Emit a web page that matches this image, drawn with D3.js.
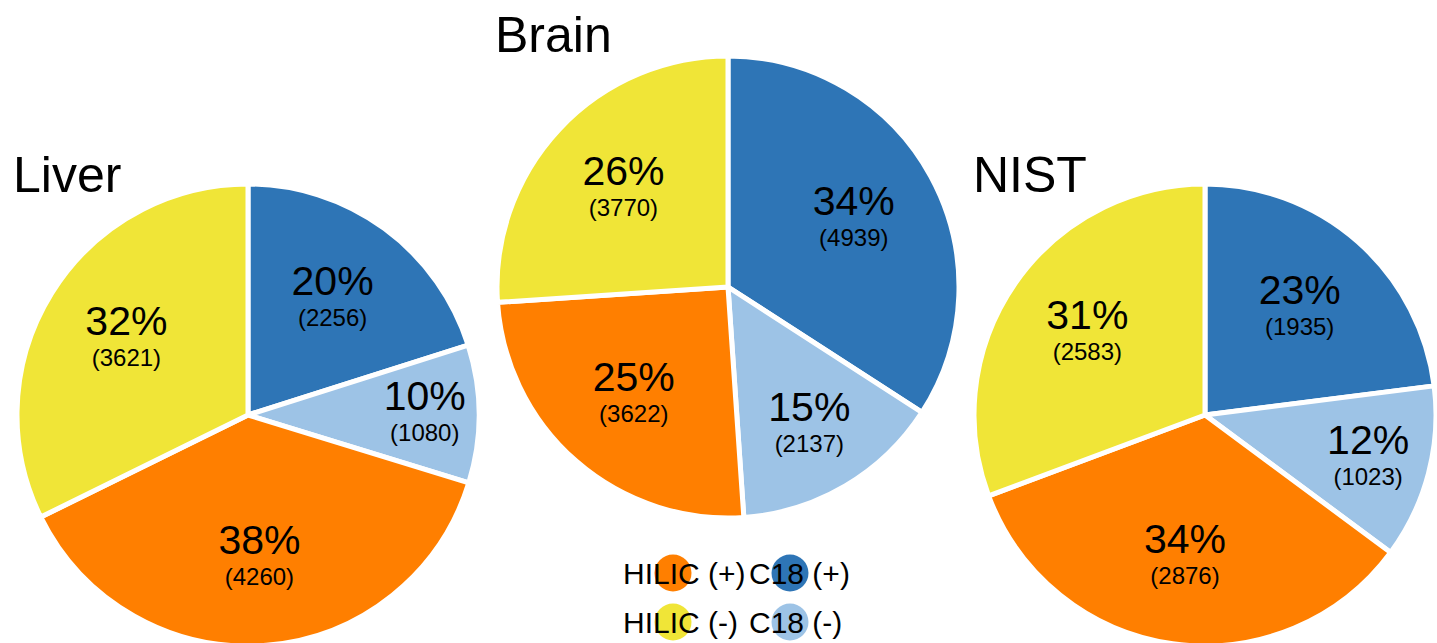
<!DOCTYPE html>
<html>
<head>
<meta charset="utf-8">
<script src="https://cdn.jsdelivr.net/npm/d3@7"></script>
<style>
  body { margin: 0; background: #fff; }
  svg { display: block; font-family: "Liberation Sans", Arial, sans-serif; }
</style>
</head>
<body>
<div id="chart"></div>
<script>
// categories in clockwise order from 12 o'clock
const categories = ["C18 (+)", "C18 (-)", "HILIC (+)", "HILIC (-)"];
const samples = ["Liver", "Brain", "NIST"];
const liverCounts = [2256, 1080, 4260, 3621];
const brainCounts = [4939, 2137, 3622, 3770];
const nistCounts = [1935, 1023, 2876, 2583];
const legendOrder = ["HILIC (+)", "C18 (+)", "HILIC (-)", "C18 (-)"];

const colors = d3.scaleOrdinal()
    .domain(categories)
    .range(["#2e75b6", "#9dc3e6", "#ff7f00", "#f0e537"]);

const width = 1437, height = 643;
const radius = 231;

// where each pie sits on the page
const layout = [
    {cx: 248, cy: 415, titleX: 13, titleY: 192},
    {cx: 728, cy: 287, titleX: 495, titleY: 52},
    {cx: 1205, cy: 415, titleX: 973, titleY: 192}
];
const countsBySample = [liverCounts, brainCounts, nistCounts];

const svg = d3.select("#chart")
    .append("svg")
    .attr("width", width)
    .attr("height", height);

svg.append("rect")
    .attr("width", width)
    .attr("height", height)
    .attr("fill", "#fff");

const pie = d3.pie()
    .sort(null)
    .value(d => d.value);

const arc = d3.arc()
    .innerRadius(0)
    .outerRadius(radius);

const pct = d3.format(".0%");

samples.forEach(function (name, i) {
    const pos = layout[i];
    const data = categories.map((c, j) => ({cat: c, value: countsBySample[i][j]}));
    const total = d3.sum(data, d => d.value);

    const g = svg.append("g")
        .attr("transform", "translate(" + pos.cx + "," + pos.cy + ")");

    const slices = pie(data);

    g.selectAll("path")
        .data(slices)
        .enter()
        .append("path")
        .attr("d", arc)
        .attr("fill", d => colors(d.data.cat))
        .attr("stroke", "#fff")
        .attr("stroke-width", 5)
        .attr("stroke-linejoin", "round");

    // small slices push their labels further out
    const labelPos = function (d) {
        const frac = d.data.value / total;
        const k = 0.62 + Math.max(0, 0.2 - frac) * 1.4;
        return d3.arc().innerRadius(radius * k).outerRadius(radius * k).centroid(d);
    };

    const labels = g.selectAll("g.lbl")
        .data(slices)
        .enter()
        .append("g")
        .attr("class", "lbl")
        .attr("transform", d => "translate(" + labelPos(d) + ")");

    labels.append("text")
        .attr("text-anchor", "middle")
        .attr("y", -4)
        .style("font-size", "41px")
        .attr("fill", "#000")
        .text(d => pct(d.data.value / total));

    labels.append("text")
        .attr("text-anchor", "middle")
        .attr("y", 27)
        .style("font-size", "24px")
        .attr("fill", "#000")
        .text(d => "(" + d.data.value + ")");

    svg.append("text")
        .attr("x", pos.titleX)
        .attr("y", pos.titleY)
        .style("font-size", "50px")
        .attr("fill", "#000")
        .text(name);
});

// legend: markers sit behind the labels
const legendCols = [{tx: 623, mx: 673}, {tx: 749, mx: 790}];
const legendRows = [573, 622];

const legend = svg.append("g")
    .selectAll("g")
    .data(legendOrder)
    .enter()
    .append("g");

legend.append("circle")
    .attr("cx", (d, i) => legendCols[i % 2].mx)
    .attr("cy", (d, i) => legendRows[Math.floor(i / 2)])
    .attr("r", 18.5)
    .attr("fill", d => colors(d));

legend.append("text")
    .attr("x", (d, i) => legendCols[i % 2].tx)
    .attr("y", (d, i) => legendRows[Math.floor(i / 2)] + 11)
    .style("font-size", "30px")
    .attr("fill", "#000")
    .text(d => d);
</script>
</body>
</html>
